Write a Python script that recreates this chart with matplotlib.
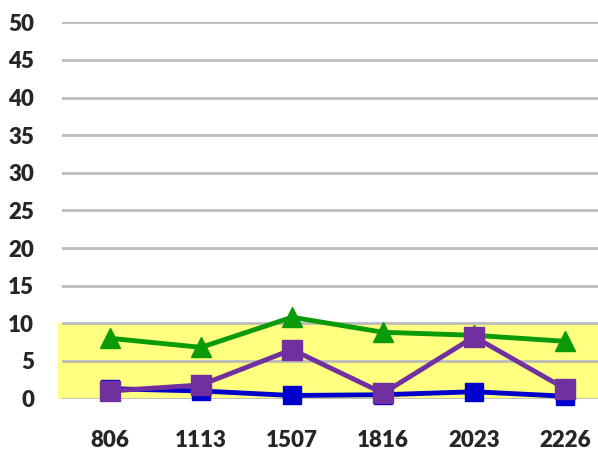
import matplotlib.pyplot as plt
from matplotlib.patches import Rectangle

categories = ['806', '1113', '1507', '1816', '2023', '2226']
blue_vals = [1.3, 1.0, 0.4, 0.5, 0.9, 0.3]
green_vals = [8.0, 6.8, 10.8, 8.8, 8.4, 7.6]
purple_vals = [1.0, 1.8, 6.5, 0.7, 8.2, 1.3]
y_ticks = [0, 5, 10, 15, 20, 25, 30, 35, 40, 45, 50]
band = (0, 10)

plt.rcParams['font.family'] = ['Lato', 'DejaVu Sans']

fig = plt.figure(figsize=(5.98, 4.5), dpi=100)
ax = fig.add_axes([62 / 598, 51.5 / 450, 1 - 62 / 598, 376.2 / 450])

x = list(range(len(categories)))

# yellow band behind the lines, sticking out a bit to the left
ax.add_patch(Rectangle((-0.575, band[0]), 6.5, band[1] - band[0], color='#ffff80',
                       zorder=0, clip_on=False, lw=0))

for t in y_ticks:
    ax.axhline(t, color='#bcbcbc', lw=2.0, zorder=1)

ax.plot(x, blue_vals, color='#0000cc', lw=3.5, marker='s', ms=13, zorder=3, clip_on=False)
ax.plot(x, green_vals, color='#0a9a0a', lw=3.5, marker='^', ms=14, zorder=4, clip_on=False)
ax.plot(x, purple_vals, color='#7030a0', lw=3.5, marker='s', ms=14, zorder=5, clip_on=False)

ax.set_xlim(-0.527, 5.36)
ax.set_ylim(0, 50)
ax.set_xticks(x)
ax.set_xticklabels(categories)
ax.set_yticks(y_ticks)
ax.tick_params(axis='both', length=0, labelsize=16, labelcolor='#262626')
ax.tick_params(axis='y', pad=20)
ax.tick_params(axis='x', pad=23)
for lab in ax.get_xticklabels() + ax.get_yticklabels():
    lab.set_fontweight('heavy')
for s in ax.spines.values():
    s.set_visible(False)
ax.set_facecolor('none')

fig.savefig('out.png', dpi=100)
